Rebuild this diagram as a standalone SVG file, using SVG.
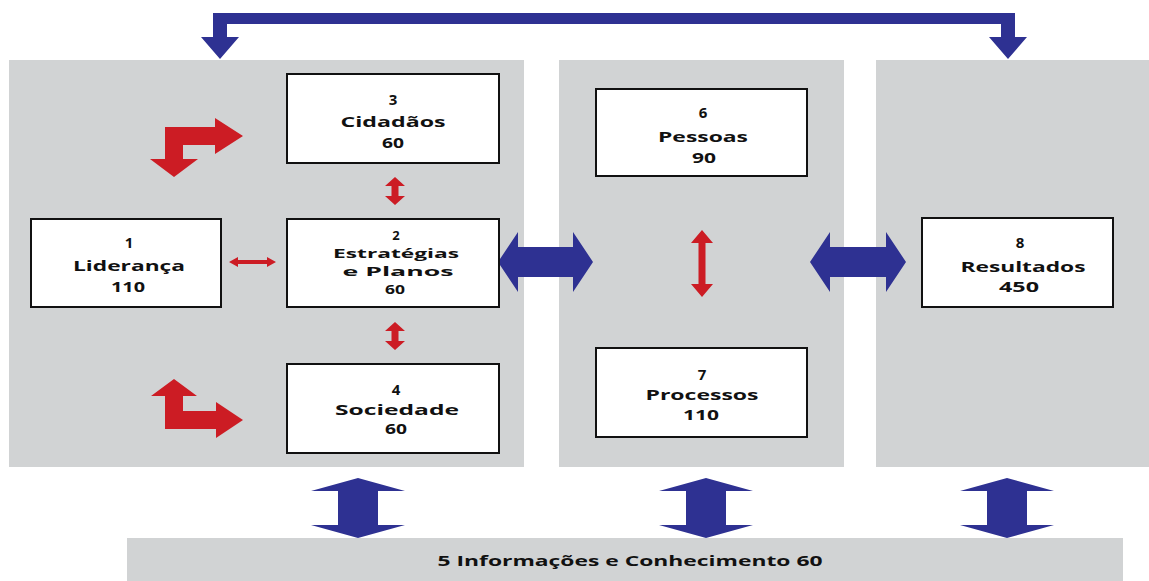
<svg xmlns="http://www.w3.org/2000/svg" width="1149" height="581" viewBox="0 0 1149 581">
<style>
.panel{fill:#d1d3d4}
.box{fill:#fff;stroke:#111;stroke-width:2}
.t{font-family:"Open Sans","Liberation Sans",sans-serif;font-weight:700;font-size:15px;fill:#111;text-anchor:middle}
.s{font-size:13px}
.blue{fill:#2e3192}
.red{fill:#cc1c24}
</style>
<rect width="1149" height="581" fill="#fff"/>
<g id="panels">
<rect class="panel" x="9" y="60" width="515" height="407"/>
<rect class="panel" x="559" y="60" width="285" height="407"/>
<rect class="panel" x="876" y="60" width="273" height="407"/>
</g>
<g id="connectors">
<polygon class="blue" points="220,59 201,37 213,37 213,13 1015,13 1015,37 1027,37 1008,59 989,37 1001,37 1001,24 227,24 227,37 239,37"/>
<polygon class="blue" points="498,262 518,232 518,247 573,247 573,232 593,262 573,292 573,277 518,277 518,292"/>
<polygon class="blue" points="810,262 830,232 830,247 886,247 886,232 906,262 886,292 886,277 830,277 830,292"/>
<polygon class="blue" points="358,478 405,491 378,491 378,525 405,525 358,538 311,525 338,525 338,491 311,491"/>
<polygon class="blue" points="706,478 753,491 726,491 726,525 753,525 706,538 659,525 686,525 686,491 659,491"/>
<polygon class="blue" points="1007,478 1054,491 1027,491 1027,525 1054,525 1007,538 960,525 987,525 987,491 960,491"/>
<polygon class="red" points="229,262 238,257 238,260 267,260 267,257 276,262 267,267 267,264 238,264 238,267"/>
<polygon class="red" points="395,177 405,186 398.5,186 398.5,196 405,196 395,205 385,196 391.5,196 391.5,186 385,186"/>
<polygon class="red" points="395,322 405,331 398.5,331 398.5,341 405,341 395,350 385,341 391.5,341 391.5,331 385,331"/>
<polygon class="red" points="702,230 713,243 705.5,243 705.5,284 713,284 702,297 691,284 698.5,284 698.5,243 691,243"/>
<polygon class="red" points="165,159 165,127 215,127 215,118 243,136 215,154 215,145 183,145 183,159 198,159 174,177 150,159"/>
<polygon class="red" points="174,379 197,396 183,396 183,411 216,411 216,402 243,420 216,438 216,429 165,429 165,396 151,396"/>
</g>
<g id="n3">
<rect class="box" x="287" y="74" width="212" height="89"/>
<text class="t" x="393" y="105">3</text>
<text class="t" x="393" y="127" textLength="105" lengthAdjust="spacingAndGlyphs">Cidadãos</text>
<text class="t" x="393" y="148" textLength="22" lengthAdjust="spacingAndGlyphs">60</text>
</g>
<g id="n1">
<rect class="box" x="31" y="219" width="190" height="88"/>
<text class="t" x="129" y="248">1</text>
<text class="t" x="129" y="271" textLength="112" lengthAdjust="spacingAndGlyphs">Liderança</text>
<text class="t" x="128" y="292" textLength="34" lengthAdjust="spacingAndGlyphs">110</text>
</g>
<g id="n2">
<rect class="box" x="287" y="219" width="212" height="88"/>
<text class="t s" x="396" y="240">2</text>
<text class="t s" x="396" y="258" textLength="126" lengthAdjust="spacingAndGlyphs">Estratégias</text>
<text class="t s" x="398" y="276" textLength="111" lengthAdjust="spacingAndGlyphs">e Planos</text>
<text class="t s" x="395" y="294" textLength="20" lengthAdjust="spacingAndGlyphs">60</text>
</g>
<g id="n4">
<rect class="box" x="287" y="364" width="212" height="89"/>
<text class="t" x="396" y="395">4</text>
<text class="t" x="397" y="415" textLength="124" lengthAdjust="spacingAndGlyphs">Sociedade</text>
<text class="t" x="396" y="434" textLength="22" lengthAdjust="spacingAndGlyphs">60</text>
</g>
<g id="n6">
<rect class="box" x="596" y="89" width="211" height="87"/>
<text class="t" x="703" y="118">6</text>
<text class="t" x="703" y="142" textLength="90" lengthAdjust="spacingAndGlyphs">Pessoas</text>
<text class="t" x="704" y="163" textLength="24" lengthAdjust="spacingAndGlyphs">90</text>
</g>
<g id="n7">
<rect class="box" x="596" y="348" width="211" height="89"/>
<text class="t" x="702" y="380">7</text>
<text class="t" x="702" y="400" textLength="113" lengthAdjust="spacingAndGlyphs">Processos</text>
<text class="t" x="701" y="420" textLength="36" lengthAdjust="spacingAndGlyphs">110</text>
</g>
<g id="n8">
<rect class="box" x="922" y="218" width="191" height="89"/>
<text class="t" x="1020" y="248">8</text>
<text class="t" x="1023" y="272" textLength="125" lengthAdjust="spacingAndGlyphs">Resultados</text>
<text class="t" x="1019" y="292" textLength="40" lengthAdjust="spacingAndGlyphs">450</text>
</g>
<g id="n5">
<rect class="panel" x="127" y="538" width="996" height="43"/>
<text class="t" x="630" y="566" textLength="385" lengthAdjust="spacingAndGlyphs">5 Informações e Conhecimento 60</text>
</g>
</svg>
